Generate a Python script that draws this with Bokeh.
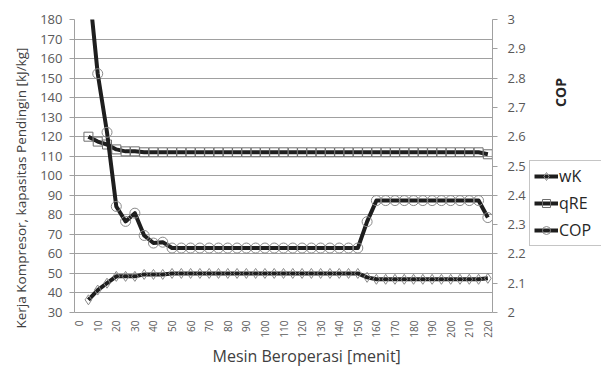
import math
from bokeh.plotting import figure
from bokeh.layouts import row
from bokeh.models import Range1d, LinearAxis, FixedTicker, Legend, LegendItem, Label, Title
from bokeh.embed import file_html
from bokeh.resources import INLINE

# ---- data ----
minutes = [5, 10, 15, 20, 25, 30, 35, 40, 45, 50, 55, 60, 65, 70, 75, 80, 85, 90,
           95, 100, 105, 110, 115, 120, 125, 130, 135, 140, 145, 150, 155, 160,
           165, 170, 175, 180, 185, 190, 195, 200, 205, 210, 215, 220]

wK = [36.5, 41.5, 45.0, 48.5, 48.5, 48.5, 49.5, 49.5, 49.5, 50.0, 50.0, 50.0,
      50.0, 50.0, 50.0, 50.0, 50.0, 50.0, 50.0, 50.0, 50.0, 50.0, 50.0, 50.0,
      50.0, 50.0, 50.0, 50.0, 50.0, 50.0, 48.0, 47.0, 47.0, 47.0, 47.0, 47.0,
      47.0, 47.0, 47.0, 47.0, 47.0, 47.0, 47.0, 47.5]

qRE = [120.0, 117.5, 116.0, 113.5, 112.5, 112.5, 112.0, 112.0, 112.0, 112.0,
       112.0, 112.0, 112.0, 112.0, 112.0, 112.0, 112.0, 112.0, 112.0, 112.0,
       112.0, 112.0, 112.0, 112.0, 112.0, 112.0, 112.0, 112.0, 112.0, 112.0,
       112.0, 112.0, 112.0, 112.0, 112.0, 112.0, 112.0, 112.0, 112.0, 112.0,
       112.0, 112.0, 112.0, 111.0]

COP = [3.13, 2.815, 2.615, 2.362, 2.311, 2.339, 2.263, 2.237, 2.24, 2.22, 2.22,
       2.22, 2.22, 2.22, 2.22, 2.22, 2.22, 2.22, 2.22, 2.22, 2.22, 2.22, 2.22,
       2.22, 2.22, 2.22, 2.22, 2.22, 2.22, 2.22, 2.31, 2.382, 2.382, 2.382,
       2.382, 2.382, 2.382, 2.382, 2.382, 2.382, 2.382, 2.382, 2.382, 2.324]

x_ticks = list(range(0, 221, 10))
left_ticks = list(range(30, 181, 10))
cop_ticks = [2.0, 2.1, 2.2, 2.3, 2.4, 2.5, 2.6, 2.7, 2.8, 2.9, 3.0]
cop_tick_labels = ["2", "2.1", "2.2", "2.3", "2.4", "2.5", "2.6", "2.7", "2.8", "2.9", "3"]

series_names = ["wK", "qRE", "COP"]
x_title = "Mesin Beroperasi [menit]"
y_title = "Kerja Kompresor, kapasitas Pendingin [kJ/kg]"
y2_title = "COP"

FONT = "Open Sans"
TICK_COLOR = "#595959"
AXIS_COLOR = "#a0a0a0"
LINE_COLOR = "#1e1e1e"
MARK_COLOR = "#8a8a8a"
SQ_COLOR = "#6e6e6e"

p = figure(width=528, height=369, output_backend="svg", toolbar_location=None,
           x_range=Range1d(-2.5, 222.5), y_range=Range1d(30, 180),
           min_border_left=74, min_border_right=34, min_border_top=19,
           min_border_bottom=57)
p.outline_line_color = None
p.border_fill_color = "white"
p.extra_y_ranges = {"cop": Range1d(2, 3)}

p.xgrid.visible = False
p.ygrid.grid_line_color = AXIS_COLOR
p.ygrid.grid_line_width = 1

ya = p.yaxis[0]
ya.ticker = FixedTicker(ticks=left_ticks)
ya.axis_line_color = AXIS_COLOR
ya.major_tick_line_color = AXIS_COLOR
ya.major_tick_out = 5
ya.major_tick_in = 0
ya.minor_tick_line_color = None
ya.major_label_text_font = FONT
ya.major_label_text_font_size = "13px"
ya.major_label_text_color = TICK_COLOR
ya.major_label_standoff = 7

xa = p.xaxis[0]
xa.ticker = FixedTicker(ticks=x_ticks)
xa.axis_line_color = AXIS_COLOR
xa.major_tick_out = 0
xa.major_tick_in = 0
xa.minor_tick_line_color = None
xa.major_label_orientation = math.pi / 2
xa.major_label_text_font = FONT
xa.major_label_text_font_size = "10px"
xa.major_label_text_color = TICK_COLOR
xa.major_label_standoff = 8

ra = LinearAxis(y_range_name="cop", ticker=FixedTicker(ticks=cop_ticks),
                major_label_overrides={t: s for t, s in zip(cop_ticks, cop_tick_labels)})
ra.axis_line_color = AXIS_COLOR
ra.major_tick_line_color = AXIS_COLOR
ra.major_tick_out = 5
ra.major_tick_in = 0
ra.minor_tick_line_color = None
ra.major_label_text_font = FONT
ra.major_label_text_font_size = "13px"
ra.major_label_text_color = TICK_COLOR
ra.major_label_standoff = 10
p.add_layout(ra, "right")

# axis titles
p.add_layout(Title(text=y_title, align="left", offset=-16, text_font=FONT,
                   text_font_size="13.5px", text_font_style="normal",
                   text_color="#404040", standoff=16), "left")
p.add_layout(Title(text=x_title, align="left", offset=138, text_font=FONT,
                   text_font_size="16px", text_font_style="normal",
                   text_color="#404040", standoff=4), "below")

# series
p.line(minutes, wK, line_color=LINE_COLOR, line_width=4, line_join="round")
p.scatter(minutes, wK, marker="diamond", size=10, fill_alpha=0,
          line_color=MARK_COLOR, line_width=1)
p.line(minutes, qRE, line_color=LINE_COLOR, line_width=4, line_join="round")
p.scatter(minutes, qRE, marker="square", size=9, fill_alpha=0,
          line_color=SQ_COLOR, line_width=1)
p.line(minutes, COP, line_color=LINE_COLOR, line_width=4, line_join="round",
       y_range_name="cop")
p.scatter(minutes, COP, marker="circle", size=10, fill_alpha=0,
          line_color=MARK_COLOR, line_width=1, y_range_name="cop")

# side panel with legend and COP title
s = figure(width=73, height=369, output_backend="svg", toolbar_location=None,
           x_range=Range1d(0, 1), y_range=Range1d(0, 1),
           min_border_left=0, min_border_right=0, min_border_top=0,
           min_border_bottom=0)
s.axis.visible = False
s.grid.visible = False
s.outline_line_color = None
s.border_fill_color = "white"

markers = ["diamond", "square", "circle"]
mcolors = [MARK_COLOR, SQ_COLOR, MARK_COLOR]
items = []
for name, mk, mc in zip(series_names, markers, mcolors):
    # legend-only renderers, placed outside the visible range
    lr = s.line([-5, -4], [-5, -5], line_color=LINE_COLOR, line_width=4)
    sr = s.scatter([-5], [-5], marker=mk, size=7, fill_alpha=0, line_color=mc, line_width=1)
    items.append(LegendItem(label=name, renderers=[lr, sr]))

legend = Legend(items=items, location=(1, 66))
legend.background_fill_alpha = 0
legend.border_line_color = "#8c8c8c"
legend.border_line_width = 1
legend.label_text_font = FONT
legend.label_text_font_size = "16px"
legend.label_text_color = "#262626"
legend.glyph_width = 24
legend.glyph_height = 20
legend.label_height = 20
legend.label_width = 60
legend.label_standoff = 1
legend.padding = 4
legend.spacing = 5
legend.margin = 0
s.add_layout(legend, "center")

s.add_layout(Label(x=32, y=220, x_units="screen", y_units="screen",
                   text=y2_title, angle=math.pi / 2, text_align="center",
                   text_baseline="middle", text_font=FONT, text_font_size="14px",
                   text_font_style="bold", text_color="#262626"))

layout = row(p, s, spacing=0)
open("out.html", "w").write(file_html(layout, INLINE))
